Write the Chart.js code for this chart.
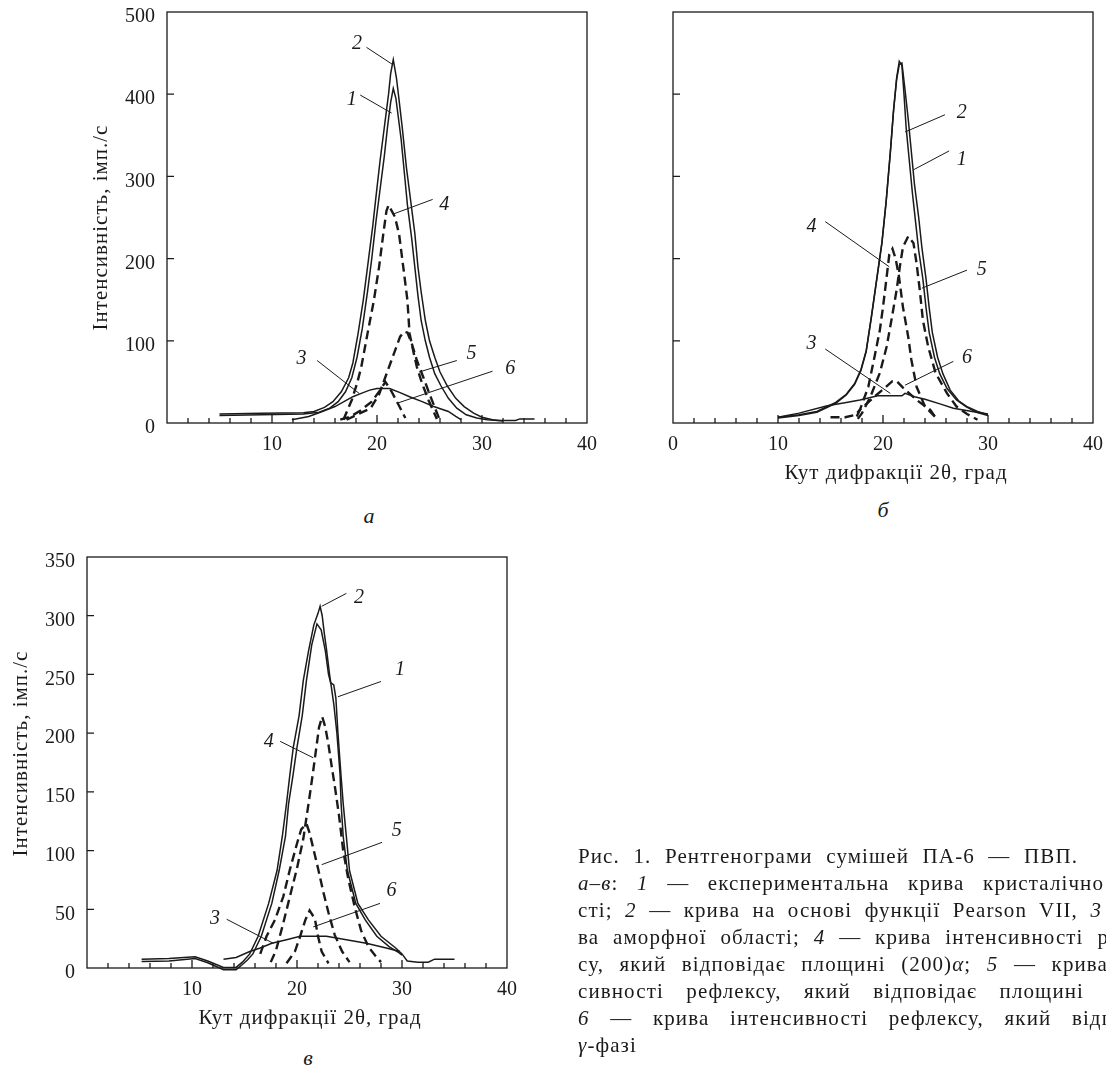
<!DOCTYPE html>
<html lang="uk">
<head>
<meta charset="utf-8">
<title>Рентгенограми сумішей ПА-6 — ПВП</title>
<script src="https://cdn.jsdelivr.net/npm/chart.js@4.4.1/dist/chart.umd.min.js"></script>
<style>
*{margin:0;padding:0;box-sizing:border-box}
html,body{width:1106px;height:1073px;background:#fff;overflow:hidden}
body{position:relative;font-family:'Liberation Serif','DejaVu Serif',serif;color:#1a1a1a}
canvas{position:absolute}
#cA{left:0;top:0}
#cB{left:600px;top:0}
#cC{left:0;top:545px}
.tag{position:absolute;font-style:italic;font-size:22px;line-height:22px;transform:translate(-50%,-50%)}
.cap{position:absolute;left:578px;top:843px;font-size:21px;line-height:27px;white-space:nowrap;letter-spacing:1.1px}
.cap div{text-align:justify;text-align-last:justify}
.cap div.last{text-align:left;text-align-last:left}
</style>
</head>
<body>
<canvas id="cA" width="600" height="470"></canvas>
<canvas id="cB" width="506" height="489"></canvas>
<canvas id="cC" width="600" height="489"></canvas>

<div class="tag" style="left:369px;top:516px">а</div>
<div class="tag" style="left:883px;top:510px">б</div>
<div class="tag" style="left:308px;top:1058px">в</div>

<div class="cap">
  <div style="width:500px">Рис. 1. Рентгенограми сумішей ПА-6 — ПВП.</div>
  <div style="width:526px"><i>а–в</i>: <i>1</i> — експериментальна крива кристалічно</div>
  <div style="width:524px">сті; <i>2</i> — крива на основі функції Pearson VII, <i>3</i></div>
  <div style="width:531px">ва аморфної області; <i>4</i> — крива інтенсивності р</div>
  <div style="width:530px">су, який відповідає площині (200)<i>α</i>; <i>5</i> — крива</div>
  <div style="width:506px">сивності рефлексу, який відповідає площині</div>
  <div style="width:536px"><i>6</i> — крива інтенсивності рефлексу, який відп</div>
  <div class="last"><i>γ</i>-фазі</div>
</div>

<script>
// --- а: кут 2θ (град), інтенсивність (імп./с) ---
const aExp   = [[5,9],[9,10],[13,11],[14.5,13],[15.5,18],[16.3,26],[17,38],[17.6,55],[18.1,80],[18.6,115],[19.1,160],[19.5,200],[19.9,245],[20.3,285],[20.7,325],[21,360],[21.3,390],[21.55,407],[21.8,395],[22,375],[22.3,345],[22.6,305],[22.9,265],[23.3,225],[23.6,190],[23.9,155],[24.2,125],[24.6,100],[25,80],[25.5,60],[26.1,45],[26.8,30],[27.6,18],[28.5,10],[29.5,6],[30.5,4],[31.5,3],[33.2,3],[33.6,5],[35,5]];
const aFit   = [[5,11],[9,12],[13,12.5],[14,14],[15,19],[15.8,26],[16.6,38],[17.3,55],[17.7,73],[18.2,109],[18.7,150],[19.1,190],[19.6,240],[19.9,275],[20.3,320],[20.7,360],[21.1,400],[21.3,425],[21.55,442],[21.85,420],[22.1,393],[22.4,360],[22.8,311],[23.2,271],[23.6,231],[23.9,190],[24.2,160],[24.6,125],[25,100],[25.5,80],[26,62],[26.7,45],[27.5,30],[28.3,20],[29.2,12],[30,7],[31,4],[32,2.5]];
const aAmorph = [[11.9,4],[13.5,8],[14.6,13],[16,20],[17.7,32],[18.5,36],[19.3,40],[20,42],[21.2,42],[22.2,37],[23.1,32],[24.3,26],[25.4,20],[26.8,14],[27.5,8],[28,4]];
const aRefl4 = [[16.8,4],[17.6,28],[18.1,48],[18.5,68],[19.1,109],[19.7,149],[20.2,190],[20.6,230],[20.9,258],[21.1,265],[21.4,258],[21.7,251],[22.1,230],[22.5,190],[22.9,149],[23.1,109],[23.5,85],[23.8,68],[24.3,48],[24.9,28],[25.7,5]];
const aRefl5 = [[17.1,4],[18.4,12],[19.4,18],[20.2,35],[20.8,56],[21.6,84],[22.2,105],[22.6,111],[22.9,110],[23.3,97],[23.8,76],[24.4,56],[25.1,32],[25.9,6]];
const aRefl6 = [[16.5,4],[17.5,8],[18.4,15],[19.5,26],[20.3,40],[20.8,50],[21.4,38],[22.1,21],[22.7,6]];
// номер кривої, місце номера, початок і кінець виноски
const aLabels = [['2',18.1,461,19,457,21.5,436],['1',17.6,393,18.4,399,21.4,377],['4',26.4,265,25.3,272,21.5,254],['5',29,84,27.6,76,24,62],['6',32.7,66,31,63,21.9,24],['3',12.8,78,14.3,76,18.3,36]];

// --- б ---
const bExp   = [[10,6],[12,9],[13.7,13],[15.5,24],[16.5,34],[17.3,47],[17.9,64],[18.4,87],[18.9,129],[19.4,174],[19.9,219],[20.3,269],[20.7,329],[21,379],[21.3,418],[21.55,436],[21.8,438],[22.1,405],[22.4,370],[22.7,330],[23,290],[23.4,250],[23.7,214],[24.1,175],[24.4,140],[24.7,110],[25.2,80],[25.7,60],[26.4,40],[27.2,27],[28,20],[29,14],[30,10]];
const bFit   = [[10,7],[12,10],[13.7,14],[15.5,25],[16.5,35],[17.3,48],[17.9,65],[18.4,88],[18.9,130],[19.4,175],[19.9,220],[20.3,270],[20.7,330],[21,380],[21.3,420],[21.55,440],[21.8,435],[22,400],[22.2,360],[22.5,320],[22.8,280],[23.1,245],[23.4,210],[23.8,175],[24.1,140],[24.4,110],[24.9,80],[25.4,60],[26.1,42],[27,28],[27.9,20],[28.9,13],[30,9]];
const bAmorph = [[10,7],[12,12],[14.7,21],[16.5,25],[17.8,28],[19.5,33],[21.8,33],[22.1,36],[23,32],[24,29],[25.5,23],[26.7,18],[28.5,14],[30,11]];
const bRefl4 = [[15,7],[16.4,7],[17.4,10],[17.8,16],[18.6,44],[19.2,81],[19.7,113],[20,141],[20.35,178],[20.6,205],[20.9,212],[21.2,200],[21.5,180],[21.9,141],[22.4,105],[22.7,77],[23.2,44],[24,20],[25,7]];
const bRefl5 = [[17.6,5],[18,12],[18.8,32],[19.7,61],[20.35,93],[20.8,125],[21.3,162],[21.6,190],[21.9,214],[22.4,227],[22.9,219],[23.2,194],[23.5,162],[23.8,125],[24.3,93],[25,61],[26.1,36],[27,20],[28,11],[29,4]];
const bRefl6 = [[17.5,8],[17.8,16],[19,30],[20.2,43],[20.9,51],[21.3,51],[21.9,43],[23.2,28],[24.5,16],[25.1,5]];
const bLabels = [['2',27.5,377,25.9,375,22.1,354],['1',27.5,320,26.3,331,22.9,308],['4',13.2,239,14.5,245,20.6,190],['5',29.4,187,28,186,23.7,164],['3',13.2,97,14.5,90,20.7,36],['6',28,79,26.7,75,22.1,46]];

// --- в ---
const cExp   = [[5.2,5.5],[7.8,6],[10.3,8],[11.5,4.5],[13,-1.5],[14.2,-1.5],[14.8,3],[15.3,7],[15.8,12],[16.6,27],[17.6,55],[18.3,83],[18.9,112],[19.2,140],[19.6,163],[20,188],[20.5,215],[20.9,245],[21.4,275],[21.9,293],[22.3,288],[22.7,270],[23,250],[23.2,243],[23.5,241],[23.7,230],[23.9,200],[24.2,163],[24.4,140],[24.7,112],[25,83],[25.8,55],[26.8,41],[28,27],[29.4,17],[30,12],[30.5,6],[31.5,5],[32.5,5],[33.1,7.5],[35,7.5]];
const cFit   = [[5.2,7.5],[7.8,8],[10.3,9.5],[11.5,6],[13,0.5],[14.2,0.5],[14.8,5],[15.5,12],[16.3,27],[17.3,55],[18.1,83],[18.6,112],[19,140],[19.3,163],[19.65,188],[20.2,215],[20.6,245],[21.1,270],[21.6,292],[22,302],[22.2,308],[22.4,300],[22.6,285],[22.8,272],[23.1,250],[23.5,225],[23.8,200],[24.1,165],[24.2,140],[24.4,112],[24.8,83],[25.6,55],[26.5,41],[27.6,27],[28.8,18],[29.7,13],[30,11]];
const cAmorph = [[13,7.5],[14.2,9],[15.5,14],[16.5,17],[17.6,21],[19,24],[20.3,27],[22.8,27],[24.7,24],[26.6,21],[28.5,17],[29.8,14]];
const cRefl4 = [[17.5,5],[18,15],[18.6,35],[19.3,60],[20,85],[20.6,110],[21.1,140],[21.5,165],[21.8,185],[22.1,205],[22.4,214],[22.7,205],[23,190],[23.3,172],[23.6,155],[24,130],[24.4,100],[24.9,75],[25.5,52],[26.1,32],[26.8,18],[27.5,10],[28,5]];
const cRefl5 = [[16.5,12],[17.1,27],[17.9,41],[18.7,61],[19.3,83],[20,106],[20.4,118],[20.9,123],[21.2,115],[21.6,100],[22,85],[22.5,65],[23,47],[23.6,28],[24.3,14],[25,5]];
const cRefl6 = [[19,4],[19.8,14],[20.3,27],[20.8,41],[21.2,49],[21.7,42],[22,27],[22.35,14],[23,4]];
const cLabels = [['2',25.9,315,24.7,319,22.35,308],['1',29.8,254,28,244,23.9,231],['4',17.3,193,18.4,193,21.55,179],['5',29.5,117,28.1,107,22.35,88],['6',29,66,27.9,55,21.55,35],['3',12.2,42,13.3,41.5,17.75,21]];

const xTitle = 'Кут дифракції 2θ, град';
const yTitle = 'Інтенсивність, імп./с';
const ink = '#1a1a1a';
const serif = "'Liberation Serif', 'DejaVu Serif', serif";

// рамка, внутрішні риски, підписи осей та номери кривих з виносками
const frameTicks = {
  id: 'frameTicks',
  afterDatasetsDraw(chart, args, opts) {
    const { ctx, chartArea: ca, scales: { x, y } } = chart;
    ctx.save();
    ctx.strokeStyle = ink;
    ctx.fillStyle = ink;
    ctx.lineWidth = 1.3;
    ctx.strokeRect(ca.left, ca.top, ca.right - ca.left, ca.bottom - ca.top);
    ctx.beginPath();
    for (let v = 2; v < x.max; v += 2) {
      const px = x.getPixelForValue(v);
      ctx.moveTo(px, ca.bottom);
      ctx.lineTo(px, ca.bottom - (v % 10 === 0 ? 8 : 5));
    }
    for (let v = opts.yStep; v < y.max; v += opts.yStep) {
      const py = y.getPixelForValue(v);
      ctx.moveTo(ca.left, py);
      ctx.lineTo(ca.left + 7, py);
    }
    ctx.stroke();

    ctx.textAlign = 'center';
    ctx.textBaseline = 'middle';
    ctx.font = '21px ' + serif;
    ctx.letterSpacing = '1px';
    if (opts.xTitle) {
      ctx.fillText(xTitle, (ca.left + ca.right) / 2 + 13, ca.bottom + 50);
    }
    if (opts.yTitle) {
      ctx.save();
      ctx.translate(ca.left - 66, (ca.top + ca.bottom) / 2 + opts.yTitleDy);
      ctx.rotate(-Math.PI / 2);
      ctx.fillText(yTitle, 0, 0);
      ctx.restore();
    }
    ctx.letterSpacing = '0px';

    ctx.lineWidth = 1;
    ctx.font = 'italic 20px ' + serif;
    for (const [t, tx, ty, x0, y0, x1, y1] of opts.labels) {
      ctx.beginPath();
      ctx.moveTo(x.getPixelForValue(x0), y.getPixelForValue(y0));
      ctx.lineTo(x.getPixelForValue(x1), y.getPixelForValue(y1));
      ctx.stroke();
      ctx.fillText(t, x.getPixelForValue(tx), y.getPixelForValue(ty));
    }
    ctx.restore();
  }
};

function line(pts, dashed) {
  return {
    data: pts.map(([x, y]) => ({ x, y })),
    showLine: true,
    borderColor: ink,
    borderWidth: dashed ? 2.4 : 1.5,
    borderDash: dashed ? [9, 5] : [],
    pointRadius: 0,
    tension: 0,
    clip: false
  };
}

function panel(id, o) {
  const font = { family: serif, size: 20 };
  return new Chart(document.getElementById(id), {
    type: 'scatter',
    data: {
      datasets: [
        line(o.exp), line(o.fit), line(o.amorph),
        line(o.r4, true), line(o.r5, true), line(o.r6, true)
      ]
    },
    options: {
      responsive: false,
      animation: false,
      events: [],
      layout: { padding: o.pad },
      plugins: {
        legend: { display: false },
        tooltip: { enabled: false },
        frameTicks: { yStep: o.yStep, labels: o.labels, xTitle: o.xTitle, yTitle: o.yLabels, yTitleDy: o.yTitleDy || 0 }
      },
      scales: {
        x: {
          type: 'linear', min: 0, max: 40,
          grid: { display: false, drawTicks: false },
          border: { display: false },
          ticks: {
            stepSize: 10, padding: 10, color: ink, font,
            callback: v => (v === 0 && !o.xZero) ? '' : v
          },
          // фіксовані розміри осей, щоб поле графіка стояло на своєму місці
          afterFit: s => { s.height = o.xH; s.paddingLeft = 0; s.paddingRight = 0; }
        },
        y: {
          type: 'linear', min: 0, max: o.yMax,
          grid: { display: false, drawTicks: false },
          border: { display: false },
          ticks: { display: o.yLabels, stepSize: o.yStep, padding: 12, labelOffset: 5, color: ink, font },
          afterFit: s => { s.width = o.yW; s.paddingTop = 0; s.paddingBottom = 0; }
        }
      }
    },
    plugins: [frameTicks]
  });
}

panel('cA', {
  exp: aExp, fit: aFit, amorph: aAmorph, r4: aRefl4, r5: aRefl5, r6: aRefl6, labels: aLabels,
  pad: { left: 84, top: 12, right: 13, bottom: 0 }, yW: 83, xH: 47,
  yMax: 500, yStep: 100, yLabels: true, yTitleDy: 10, xZero: false, xTitle: false
});
panel('cB', {
  exp: bExp, fit: bFit, amorph: bAmorph, r4: bRefl4, r5: bRefl5, r6: bRefl6, labels: bLabels,
  pad: { left: 73, top: 12, right: 13, bottom: 0 }, yW: 0, xH: 66,
  yMax: 500, yStep: 100, yLabels: false, xZero: true, xTitle: true
});
panel('cC', {
  exp: cExp, fit: cFit, amorph: cAmorph, r4: cRefl4, r5: cRefl5, r6: cRefl6, labels: cLabels,
  pad: { left: 6, top: 12, right: 93, bottom: 0 }, yW: 81, xH: 66,
  yMax: 350, yStep: 50, yLabels: true, yTitleDy: -9, xZero: false, xTitle: true
});
</script>
</body>
</html>
